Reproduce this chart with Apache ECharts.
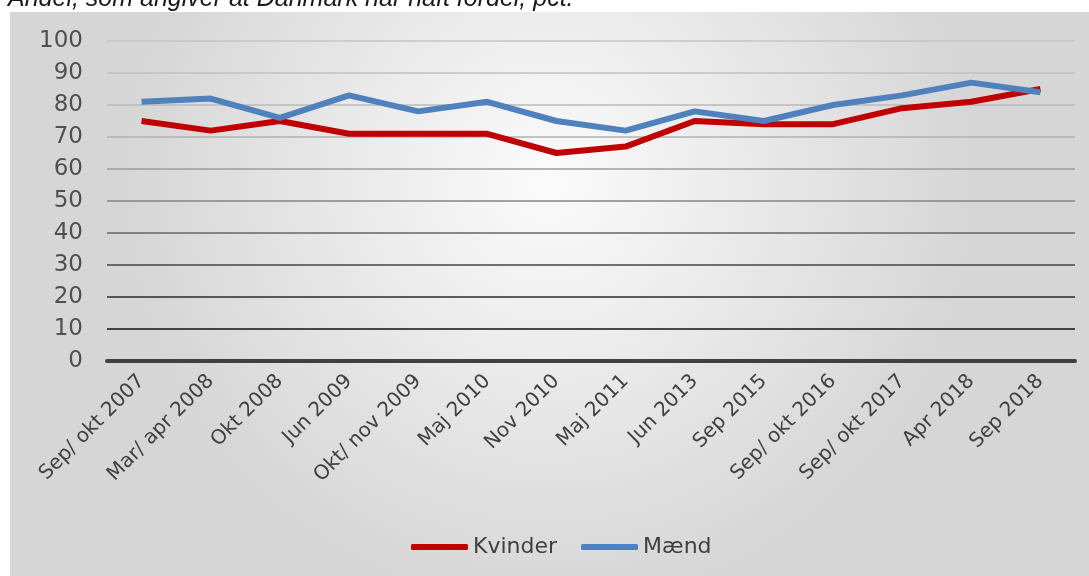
<!DOCTYPE html>
<html>
<head>
<meta charset="utf-8">
<script src="https://cdn.jsdelivr.net/npm/echarts@6/dist/echarts.min.js"></script>
<style>html,body{margin:0;padding:0;background:#fff;}#c{width:1089px;height:576px;}</style>
</head>
<body>
<div id="c"></div>
<script>
const titleText = 'Andel, som angiver at Danmark har haft fordel, pct.';
const categories = ['Sep/ okt 2007','Mar/ apr 2008','Okt 2008','Jun 2009','Okt/ nov 2009','Maj 2010','Nov 2010','Maj 2011','Jun 2013','Sep 2015','Sep/ okt 2016','Sep/ okt 2017','Apr 2018','Sep 2018'];
const kvinder = [75,72,75,71,71,71,65,67,75,74,74,79,81,85];
const maend = [81,82,76,83,78,81,75,72,78,75,80,83,87,84];
const seriesNames = ['Kvinder','Mænd'];

const chart = echarts.init(document.getElementById('c'));
const font = "'DejaVu Sans', sans-serif";
chart.setOption({
  backgroundColor: '#ffffff',
  animation: false,
  graphic: [
    {type:'rect', z:-10, silent:true, shape:{x:10,y:12,width:1079,height:564},
     style:{fill: new echarts.graphic.RadialGradient(0.5,0.3,0.75,[{offset:0,color:'#fbfbfb'},{offset:1,color:'#d6d6d6'}])}},
    {type:'text', x:8, y:-1, z:10, style:{text:titleText, font:"italic 25px 'Liberation Sans', Arial, sans-serif", fill:'#1a1a1a', verticalAlign:'middle'}}
  ],
  grid: {left:107, right:14, top:41, bottom:215, containLabel:false},
  legend: {
    data: seriesNames, left: 406, top: 531, icon: 'roundRect', itemWidth: 57, itemHeight: 6, itemGap: 24,
    textStyle: {fontSize: 22, color:'#404040', fontFamily: font}
  },
  xAxis: {
    type:'category', data: categories, boundaryGap: true,
    axisLine: {show:true, lineStyle:{color:'#404040', width:4}},
    axisTick: {show:false},
    axisLabel: {rotate:45, interval:0, margin:17, fontSize:20, color:'#404040', fontFamily: font}
  },
  yAxis: {
    type:'value', min:0, max:100, interval:10,
    axisLine:{show:false}, axisTick:{show:false},
    axisLabel:{fontSize:23, color:'#505050', margin:24, fontFamily: font},
    splitLine:{show:true, lineStyle:{width:1.5, color:['#404040','#111111','#2a2a2a','#454545','#666666','#858585','#9c9c9c','#b0b0b0','#bababa','#c0c0c0','#c4c4c4']}}
  },
  series: [
    {name:'Kvinder', type:'line', data:kvinder, symbol:'none', lineStyle:{color:'#c00000', width:6}, itemStyle:{color:'#c00000'}},
    {name:'Mænd', type:'line', data:maend, symbol:'none', lineStyle:{color:'#4f81bd', width:6}, itemStyle:{color:'#4f81bd'}}
  ]
});
</script>
</body>
</html>
